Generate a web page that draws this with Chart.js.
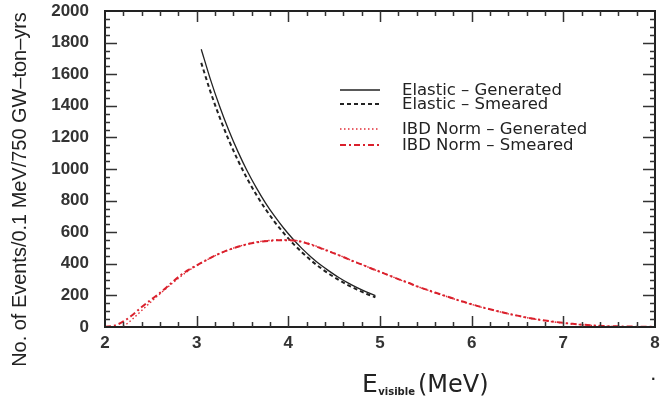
<!DOCTYPE html>
<html><head><meta charset="utf-8">
<script src="https://cdn.jsdelivr.net/npm/chart.js@4.4.1/dist/chart.umd.min.js"></script>
<style>html,body{margin:0;padding:0;background:#fff}#wrap{width:669px;height:400px;position:relative}</style>
</head><body><div id="wrap"><canvas id="c" width="669" height="400"></canvas></div>
<script>
// ---- data ----
const xTickLabels = [2, 3, 4, 5, 6, 7, 8];
const yTickLabels = [0, 200, 400, 600, 800, 1000, 1200, 1400, 1600, 1800, 2000];

const elasticE = [3.05,3.15,3.25,3.35,3.45,3.55,3.65,3.75,3.85,3.95,4.05,4.15,4.25,4.35,4.45,4.55,4.65,4.75,4.85,4.95];
const elasticGen = [1758,1567,1397,1245,1110,989,882,786,701,625,557,496,442,394,352,313,279,249,222,198];
const elasticSm  = [1672,1490,1328,1183,1055,940,838,747,666,594,529,472,420,375,334,298,265,237,211,188];

const ibdE = [2.0,2.1,2.2,2.3,2.4,2.5,2.6,2.7,2.8,2.9,3.0,3.1,3.2,3.3,3.4,3.5,3.6,3.7,3.8,3.9,
              4.0,4.1,4.2,4.3,4.4,4.5,4.6,4.7,4.8,4.9,5.0,5.1,5.2,5.3,5.4,5.5,5.6,5.7,5.8,5.9,
              6.0,6.1,6.2,6.3,6.4,6.5,6.6,6.7,6.8,6.9,7.0,7.1,7.2,7.3,7.4,7.5,7.6,7.7,7.8,7.9,8.0];
const ibdGen = [null,null,2,50,104,158,210,260,308,352,388,421,451,477,499,517,532,542,548,551,
                551,546,533,513,490,467,443,419,396,372,349,326,303,281,258,237,217,198,179,160,
                143,126,111,97,83,71,59,49,40,32,25,19,14,10,7,4,3,2,1,0,0];
const ibdSm  = [1,8,35,76,126,172,216,266,316,358,390,422,452,477,498,516,530,540,546,549,
                549,544,530,510,488,466,443,418,396,372,350,326,303,282,258,238,218,199,180,161,
                144,127,112,98,84,72,60,50,41,33,26,20,15,11,8,5,4,3,2,1,1];

const seriesNames = ["Elastic \u2013 Generated","Elastic \u2013 Smeared","IBD Norm \u2013 Generated","IBD Norm \u2013 Smeared"];
const yTitle = "No. of Events/0.1 MeV/750 GW\u2013ton\u2013yrs";

// ---- styles ----
const BLACK = '#222';
const RED = 'rgb(218,32,44)';
const styles = [
  {color: BLACK, width: 1.3, dash: []},
  {color: BLACK, width: 2, dash: [4, 3]},
  {color: 'rgb(225,45,55)', width: 1.4, dash: [1.5, 2.5]},
  {color: RED, width: 2, dash: [6, 3, 2, 3]}
];

const pts = (xs, ys) => xs.map((x, i) => ({x: x, y: ys[i]}));

const datasets = [
  {label: seriesNames[0], data: pts(elasticE, elasticGen)},
  {label: seriesNames[1], data: pts(elasticE, elasticSm)},
  {label: seriesNames[2], data: pts(ibdE, ibdGen)},
  {label: seriesNames[3], data: pts(ibdE, ibdSm)}
].map((d, i) => Object.assign(d, {
  borderColor: styles[i].color, borderWidth: styles[i].width, borderDash: styles[i].dash,
  pointRadius: 0, fill: false, cubicInterpolationMode: 'monotone', spanGaps: false, order: 4 - i
}));

function fitFont(ctx, text, weight, family, targetW) {
  ctx.font = weight + ' 20px ' + family;
  const w = ctx.measureText(text).width;
  return 20 * targetW / w;
}

const decor = {
  id: 'decor',
  afterDraw(chart) {
    const ctx = chart.ctx, a = chart.chartArea, xs = chart.scales.x, ys = chart.scales.y;
    ctx.save();
    // frame
    ctx.strokeStyle = BLACK; ctx.lineWidth = 2; ctx.setLineDash([]);
    ctx.strokeRect(a.left, a.top, a.right - a.left, a.bottom - a.top);
    // inside ticks
    ctx.lineWidth = 1.5; ctx.strokeStyle = '#333';
    ctx.beginPath();
    for (let i = 1; i < 30; i++) {
      const v = 2 + i * 0.2;
      const px = Math.round(xs.getPixelForValue(v)) + 0.5;
      const len = (i % 5 === 0) ? 11 : 5;
      ctx.moveTo(px, a.bottom); ctx.lineTo(px, a.bottom - len);
      ctx.moveTo(px, a.top); ctx.lineTo(px, a.top + len);
    }
    for (let i = 1; i < 40; i++) {
      const v = i * 50;
      const py = Math.round(ys.getPixelForValue(v)) + 0.5;
      const len = (i % 4 === 0) ? 12 : 5;
      ctx.moveTo(a.left, py); ctx.lineTo(a.left + len, py);
      ctx.moveTo(a.right, py); ctx.lineTo(a.right - len, py);
    }
    ctx.stroke();

    // legend
    const lx0 = 340, lx1 = 380, tx = 402;
    const rowsY = [90, 104, 129, 145];
    const fam = '"DejaVu Sans"';
    const fs = fitFont(ctx, seriesNames[0], 'normal', fam, 160);
    for (let i = 0; i < 4; i++) {
      const s = styles[i];
      ctx.strokeStyle = s.color; ctx.lineWidth = s.width; ctx.setLineDash(s.dash);
      ctx.beginPath(); ctx.moveTo(lx0, rowsY[i]); ctx.lineTo(lx1, rowsY[i]); ctx.stroke();
      ctx.setLineDash([]);
      ctx.fillStyle = '#222'; ctx.font = 'normal ' + fs.toFixed(2) + 'px ' + fam;
      ctx.textAlign = 'left'; ctx.textBaseline = 'middle';
      ctx.fillText(seriesNames[i], tx, rowsY[i] + 1);
    }

    // y title
    ctx.save();
    ctx.translate(21, 189.5); ctx.rotate(-Math.PI / 2);
    const yfs = fitFont(ctx, yTitle, 'normal', '"Liberation Sans"', 355);
    ctx.font = 'normal ' + yfs.toFixed(2) + 'px "Liberation Sans"';
    ctx.fillStyle = '#222'; ctx.textAlign = 'center'; ctx.textBaseline = 'middle';
    ctx.fillText(yTitle, 0, 0);
    ctx.restore();

    // x title: E_visible (MeV)
    const base = 392;
    ctx.fillStyle = '#222'; ctx.textAlign = 'left'; ctx.textBaseline = 'alphabetic';
    let x = 362;
    ctx.font = 'normal 25px "DejaVu Sans"';
    ctx.fillText('E', x, base); x += ctx.measureText('E').width + 0.5;
    ctx.font = 'bold 10px "DejaVu Sans"';
    ctx.fillText('visible', x, base + 3); x += ctx.measureText('visible').width + 3;
    ctx.font = 'normal 24px "DejaVu Sans"';
    ctx.fillText('(MeV)', x, base);
    ctx.font = 'bold 12px "DejaVu Sans"';
    ctx.fillText('.', 651, 380);
    ctx.restore();
  }
};

const tickFont = {family: '"Liberation Sans"', size: 17, weight: 'bold'};
new Chart(document.getElementById('c'), {
  type: 'line',
  data: {datasets: datasets},
  options: {
    responsive: false, animation: false, devicePixelRatio: 1,
    layout: {padding: {left: 0, right: 14, top: 11, bottom: 0}},
    plugins: {legend: {display: false}, tooltip: {enabled: false}},
    scales: {
      x: {
        type: 'linear', min: 2, max: 8,
        afterFit(s) { s.height = 73; s.paddingLeft = 0; s.paddingRight = 0; s.paddingTop = 0; s.paddingBottom = 0; },
        afterBuildTicks(s) { s.ticks = xTickLabels.map(v => ({value: v})); },
        grid: {display: false, drawTicks: false, tickLength: 0},
        border: {display: false},
        ticks: {padding: 6, color: '#333', font: tickFont, maxRotation: 0, autoSkip: false,
                callback: v => String(v)}
      },
      y: {
        type: 'linear', min: 0, max: 2000,
        afterFit(s) { s.width = 105; s.paddingLeft = 0; s.paddingRight = 0; s.paddingTop = 0; s.paddingBottom = 0; },
        afterBuildTicks(s) { s.ticks = yTickLabels.map(v => ({value: v})); },
        grid: {display: false, drawTicks: false, tickLength: 0},
        border: {display: false},
        ticks: {padding: 16, color: '#333', font: tickFont, autoSkip: false,
                callback: v => String(v)}
      }
    }
  },
  plugins: [decor]
});
</script>
</body></html>
